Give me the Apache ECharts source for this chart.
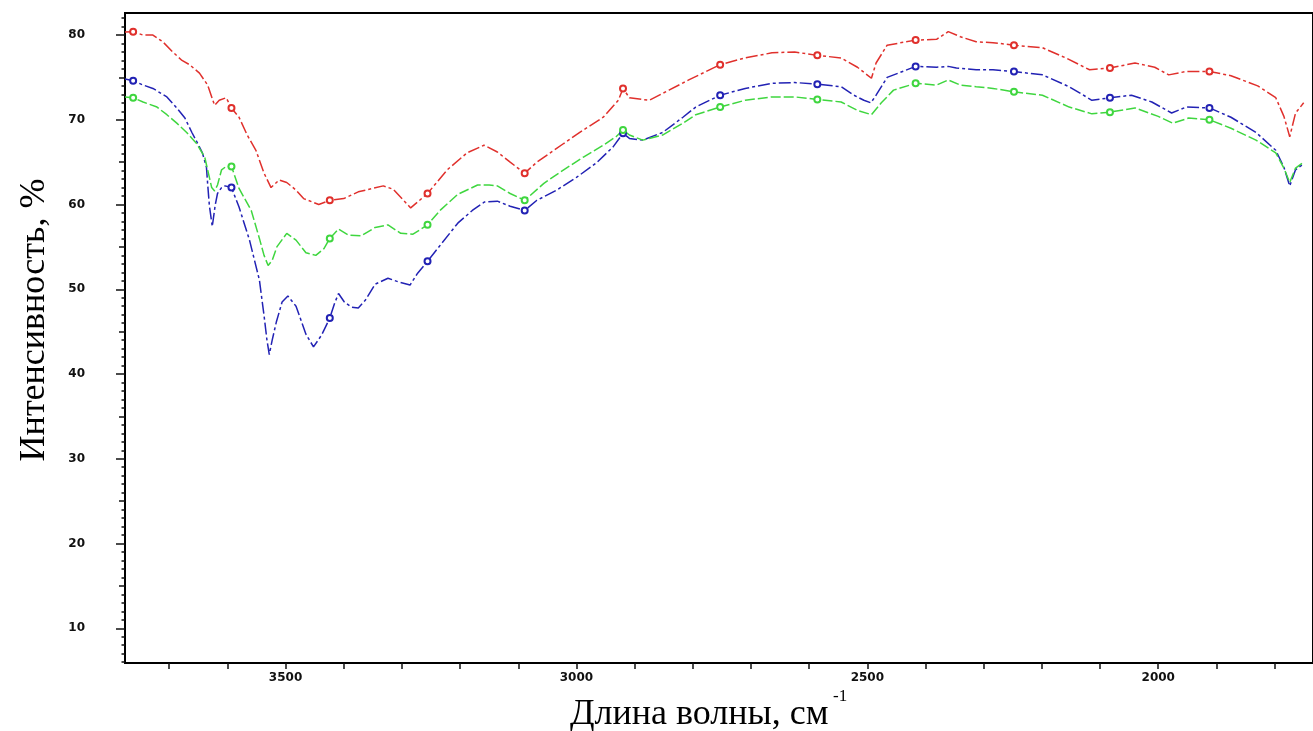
<!DOCTYPE html>
<html>
<head>
<meta charset="utf-8">
<script src="https://cdn.jsdelivr.net/npm/echarts@6/dist/echarts.min.js"></script>
<style>html,body{margin:0;padding:0;background:#fff;}#chart{width:1313px;height:731px;}</style>
</head>
<body>
<div id="chart"></div>
<script>
// Wavenumber (cm^-1), intensity (%)
const redSeries = [[3776,80.35],[3762,80.4],[3745,80.0],[3728,80.0],[3711,79.2],[3694,78.0],[3678,77.0],[3665,76.5],[3648,75.5],[3634,74.1],[3622,71.7],[3614,72.3],[3602,72.6],[3593,71.4],[3580,70.3],[3566,68.2],[3551,66.4],[3537,63.7],[3525,62.0],[3511,62.9],[3498,62.6],[3482,61.7],[3469,60.7],[3443,60.0],[3424,60.5],[3400,60.7],[3375,61.5],[3332,62.2],[3315,61.8],[3285,59.6],[3256,61.3],[3222,64.1],[3188,66.1],[3159,67.0],[3136,66.2],[3114,65.0],[3089,63.7],[3068,65.0],[3022,67.2],[2988,68.8],[2954,70.3],[2928,72.3],[2920,73.7],[2909,72.6],[2875,72.3],[2841,73.5],[2807,74.7],[2753,76.5],[2710,77.3],[2664,77.9],[2625,78.0],[2586,77.6],[2545,77.3],[2517,76.2],[2493,74.9],[2485,76.7],[2466,78.8],[2417,79.4],[2381,79.5],[2361,80.4],[2340,79.8],[2313,79.2],[2284,79.1],[2248,78.8],[2199,78.5],[2159,77.3],[2118,75.9],[2083,76.1],[2040,76.7],[2006,76.2],[1982,75.3],[1952,75.7],[1912,75.7],[1875,75.2],[1829,74.0],[1798,72.6],[1784,70.4],[1774,68.0],[1764,70.8],[1750,72.0]];

const blueSeries = [[3776,74.8],[3762,74.6],[3745,74.1],[3728,73.7],[3704,72.7],[3687,71.4],[3673,70.2],[3661,68.5],[3651,67.2],[3643,66.1],[3636,64.4],[3634,62.5],[3631,59.9],[3626,57.4],[3621,59.9],[3617,61.3],[3610,62.0],[3604,62.2],[3593,62.0],[3580,59.7],[3562,55.8],[3545,51.1],[3537,46.9],[3532,44.0],[3528,42.3],[3523,44.0],[3516,46.1],[3506,48.5],[3496,49.2],[3482,48.0],[3465,44.7],[3452,43.2],[3438,44.6],[3424,46.6],[3416,48.3],[3409,49.5],[3399,48.5],[3387,47.9],[3375,47.8],[3363,48.7],[3346,50.6],[3324,51.3],[3307,50.9],[3286,50.5],[3273,51.9],[3256,53.3],[3233,55.3],[3204,57.8],[3179,59.3],[3158,60.3],[3136,60.4],[3114,59.8],[3089,59.3],[3068,60.5],[3034,61.7],[3000,63.2],[2966,64.9],[2937,66.8],[2920,68.4],[2909,67.8],[2886,67.6],[2852,68.5],[2817,70.3],[2795,71.5],[2753,72.9],[2710,73.7],[2664,74.3],[2625,74.4],[2586,74.2],[2545,73.9],[2523,72.9],[2506,72.3],[2494,72.0],[2485,72.9],[2466,75.0],[2417,76.3],[2381,76.2],[2361,76.3],[2347,76.1],[2313,75.9],[2284,75.9],[2248,75.7],[2199,75.3],[2153,73.9],[2114,72.3],[2083,72.6],[2046,72.9],[2011,72.1],[1977,70.8],[1952,71.5],[1912,71.4],[1875,70.3],[1832,68.5],[1798,66.4],[1784,64.4],[1774,62.2],[1764,64.1],[1750,64.8]];

const greenSeries = [[3776,72.7],[3762,72.6],[3745,72.1],[3721,71.5],[3704,70.6],[3687,69.6],[3670,68.5],[3653,67.2],[3639,65.6],[3634,64.1],[3627,62.0],[3622,61.6],[3617,62.3],[3610,64.1],[3602,64.5],[3593,64.5],[3580,61.9],[3559,59.3],[3545,56.0],[3537,54.0],[3530,52.8],[3523,53.4],[3515,55.0],[3498,56.6],[3482,55.8],[3465,54.3],[3448,54.0],[3434,54.8],[3424,56.0],[3409,57.1],[3392,56.4],[3370,56.3],[3346,57.3],[3324,57.6],[3302,56.6],[3281,56.5],[3256,57.6],[3233,59.4],[3204,61.2],[3170,62.3],[3150,62.3],[3136,62.2],[3114,61.3],[3089,60.5],[3056,62.5],[3022,64.1],[2988,65.6],[2954,67.0],[2932,68.0],[2920,68.8],[2909,68.2],[2886,67.6],[2852,68.2],[2817,69.6],[2795,70.6],[2753,71.5],[2710,72.3],[2664,72.7],[2625,72.7],[2586,72.4],[2545,72.1],[2517,71.1],[2493,70.6],[2476,72.0],[2455,73.5],[2417,74.3],[2381,74.1],[2361,74.7],[2340,74.1],[2313,73.9],[2284,73.7],[2248,73.3],[2199,72.9],[2153,71.5],[2114,70.7],[2083,70.9],[2040,71.4],[2000,70.4],[1975,69.6],[1948,70.2],[1912,70.0],[1875,69.0],[1832,67.6],[1798,66.1],[1784,64.3],[1774,62.6],[1764,64.3],[1750,65.0]];

const markerWavenumbers = [3762,3593,3424,3256,3089,2920,2753,2586,2417,2248,2083,1912];

const xLabelValues = [3500,3000,2500,2000];
const xTickValues = [1800,1900,2000,2100,2200,2300,2400,2500,2600,2700,2800,2900,3000,3100,3200,3300,3400,3500,3600,3700];
const yLabelValues = [10,20,30,40,50,60,70,80];
const yMidTickValues = [15,25,35,45,55,65,75];
const yMinorTickValues = [];
for (let v = 6; v <= 82; v++) yMinorTickValues.push(v);

const xTitle = 'Длина волны, см';
const xTitleSup = '-1';
const yTitle = 'Интенсивность, %';

const COLORS = { red: '#e0302c', blue: '#2222b4', green: '#3fd63f' };

const markerSet = new Set(markerWavenumbers);
const Y_MIN = 5.9, Y_MAX = 82.6;
const plainNumber = (v) => String(v);

function yAx(ticks, len, labels, showLine) {
  return {
    type: 'value', min: Y_MIN, max: Y_MAX, position: 'left',
    splitLine: { show: false },
    axisLine: { show: showLine, onZero: false, lineStyle: { color: '#000', width: 2 } },
    axisTick: { show: true, inside: false, length: len, customValues: ticks, lineStyle: { color: '#111', width: 1.5 } },
    axisLabel: labels ? { show: true, customValues: labels, formatter: plainNumber, margin: 40, fontFamily: 'DejaVu Sans', fontWeight: 'bold', fontSize: 12, color: '#111' } : { show: false }
  };
}

function lineSeries(name, data, color, dash) {
  return {
    name, type: 'line', data, xAxisIndex: 0, yAxisIndex: 0,
    showSymbol: true,
    symbol: (val) => markerSet.has(val[0]) ? 'emptyCircle' : 'none',
    symbolSize: 6,
    itemStyle: { color: color, borderColor: color, borderWidth: 1.3 },
    lineStyle: { color: color, width: 1.5, type: dash },
    smooth: false,
    animation: false,
    z: 3
  };
}

const chart = echarts.init(document.getElementById('chart'), null, { renderer: 'canvas' });
chart.setOption({
  backgroundColor: '#fff',
  animation: false,
  grid: { left: 125, top: 13, right: -10, bottom: 68, show: true, borderColor: '#000', borderWidth: 2, backgroundColor: 'transparent' },
  xAxis: [{
    type: 'value', min: 1734, max: 3776, inverse: true,
    splitLine: { show: false },
    axisLine: { show: true, onZero: false, lineStyle: { color: '#000', width: 2 } },
    axisTick: { show: true, length: 6, customValues: xTickValues, lineStyle: { color: '#111', width: 1.5 } },
    axisLabel: { customValues: xLabelValues, formatter: plainNumber, margin: 9, fontFamily: 'DejaVu Sans', fontWeight: 'bold', fontSize: 12, color: '#111' }
  }],
  yAxis: [
    yAx(yLabelValues, 9, yLabelValues, true),
    yAx(yMidTickValues, 6, null, false),
    yAx(yMinorTickValues, 3.5, null, false)
  ],
  series: [
    lineSeries('red', redSeries, COLORS.red, [12, 3, 3, 3]),
    lineSeries('blue', blueSeries, COLORS.blue, [12, 3, 3, 3]),
    lineSeries('green', greenSeries, COLORS.green, [10, 3])
  ],
  graphic: [
    { type: 'text', x: 35, y: 320, rotation: Math.PI / 2, style: { text: yTitle, font: '36px "Liberation Serif", serif', fill: '#000', align: 'center', verticalAlign: 'middle' } },
    { type: 'text', x: 570, y: 715, style: { text: xTitle, font: '36px "Liberation Serif", serif', fill: '#000', align: 'left', verticalAlign: 'middle' } },
    { type: 'text', x: 833, y: 697, style: { text: xTitleSup, font: '17px "Liberation Serif", serif', fill: '#000', align: 'left', verticalAlign: 'middle' } }
  ]
});
</script>
</body>
</html>
